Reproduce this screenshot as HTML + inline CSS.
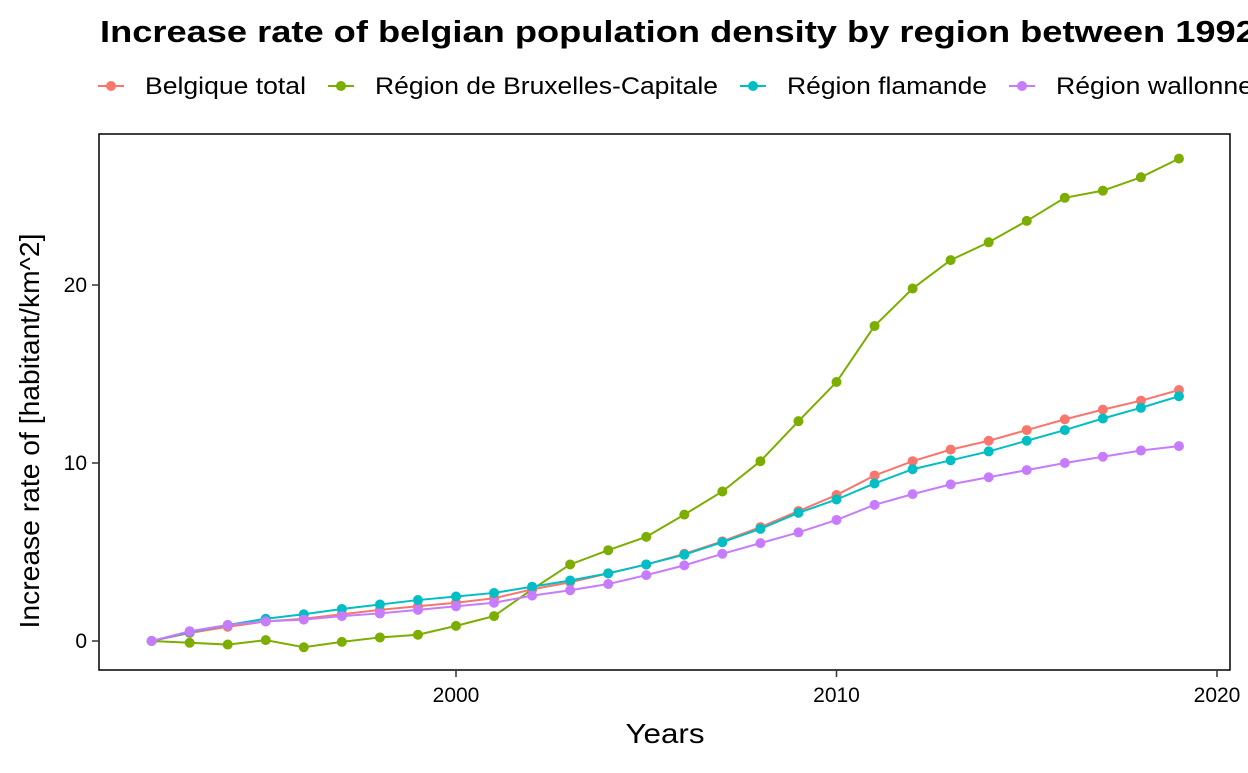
<!DOCTYPE html>
<html><head><meta charset="utf-8"><style>
body{margin:0;background:#fff;width:1248px;height:768px;overflow:hidden;font-family:"Liberation Sans",sans-serif}
</style></head><body>
<svg id="chart" width="1248" height="768">
<text x="100" y="42" font-size="31" font-weight="bold" fill="#000" textLength="1321" lengthAdjust="spacingAndGlyphs">Increase rate of belgian population density by region between 1992 and 2019</text>
<g id="legend"></g>
<rect x="99" y="134" width="1131" height="536" fill="none" stroke="#000" stroke-width="1.5"/>
<g id="axes"></g>
<g id="series"></g>
<text x="665" y="743" font-size="27.5" text-anchor="middle" textLength="79" lengthAdjust="spacingAndGlyphs">Years</text>
<text transform="translate(39,431) rotate(-90)" font-size="27.5" text-anchor="middle" textLength="395" lengthAdjust="spacingAndGlyphs">Increase rate of [habitant/km^2]</text>
</svg>
<script>
const years = [1992,1993,1994,1995,1996,1997,1998,1999,2000,2001,2002,2003,2004,2005,2006,2007,2008,2009,2010,2011,2012,2013,2014,2015,2016,2017,2018,2019];
const seriesNames = ["Belgique total","Région de Bruxelles-Capitale","Région flamande","Région wallonne"];
const belgique = [0,0.45,0.8,1.1,1.25,1.5,1.75,1.95,2.15,2.4,2.9,3.3,3.8,4.3,4.9,5.6,6.4,7.3,8.2,9.3,10.1,10.75,11.25,11.85,12.45,13.0,13.5,14.1];
const bruxelles = [0,-0.1,-0.2,0.05,-0.35,-0.05,0.2,0.35,0.85,1.4,2.9,4.3,5.1,5.85,7.1,8.4,10.1,12.35,14.55,17.7,19.8,21.4,22.4,23.6,24.9,25.3,26.05,27.1];
const flamande = [0,0.5,0.9,1.25,1.5,1.8,2.05,2.3,2.5,2.7,3.05,3.4,3.8,4.3,4.85,5.55,6.3,7.2,7.95,8.85,9.65,10.15,10.65,11.25,11.85,12.5,13.1,13.75];
const wallonne = [0,0.55,0.9,1.1,1.2,1.4,1.55,1.75,1.95,2.15,2.55,2.85,3.2,3.7,4.25,4.9,5.5,6.1,6.8,7.65,8.25,8.8,9.2,9.6,10.0,10.35,10.7,10.95];
const xTicks = [2000,2010,2020];
const yTicks = [0,10,20];
const colors = ["#F8766D","#7CAE00","#00BFC4","#C77CFF"];
const NS="http://www.w3.org/2000/svg";
const x = v => 456 + (v-2000)*38.05;
const y = v => 641 - v*17.8;
function mk(tag, attrs, parent){const e=document.createElementNS(NS,tag);for(const k in attrs)e.setAttribute(k,attrs[k]);parent.appendChild(e);return e;}
const axes=document.getElementById('axes');
xTicks.forEach(t=>{
  const l=mk('line',{x1:x(t),x2:x(t),y1:670,y2:677,stroke:'#333','stroke-width':1.5},axes);
  
  
  const tx=mk('text',{x:x(t),y:702,'font-size':21,'text-anchor':'middle',fill:'#000'},axes);
  tx.textContent=t;
  
  
});
yTicks.forEach(t=>{
  const l=mk('line',{x1:92,x2:99,y1:y(t),y2:y(t),stroke:'#333','stroke-width':1.5},axes);
  
  
  const tx=mk('text',{x:87,y:y(t)+7,'font-size':21,'text-anchor':'end',fill:'#000'},axes);
  tx.textContent=t;
  
  
});
const sg=document.getElementById('series');
const all=[belgique,bruxelles,flamande,wallonne];
const order=[1,0,2,3];
order.forEach(i=>{
  const data=all[i];
  const g=mk('g',{},sg);
  
  
  const p=mk('polyline',{points:data.map((v,j)=>x(years[j])+','+y(v)).join(' '),fill:'none',stroke:colors[i],'stroke-width':2},g);
  
  
  data.forEach((v,j)=>{
    const c=mk('circle',{cx:x(years[j]),cy:y(v),r:5,fill:colors[i]},g);
    
    
  });
});
const lg=document.getElementById('legend');
const lx=[98,328,740,1009];
const lw=[161,343,200,197];
seriesNames.forEach((n,i)=>{
  const l=mk('line',{x1:lx[i],x2:lx[i]+26,y1:86,y2:86,stroke:colors[i],'stroke-width':2},lg);
  
  
  const c=mk('circle',{cx:lx[i]+13,cy:86,r:5,fill:colors[i]},lg);
  
  
  const t=mk('text',{x:lx[i]+47,y:94,'font-size':24.5,fill:'#000',textLength:lw[i],lengthAdjust:'spacingAndGlyphs'},lg);
  t.textContent=n;
  
  
});
</script>
</body></html>
